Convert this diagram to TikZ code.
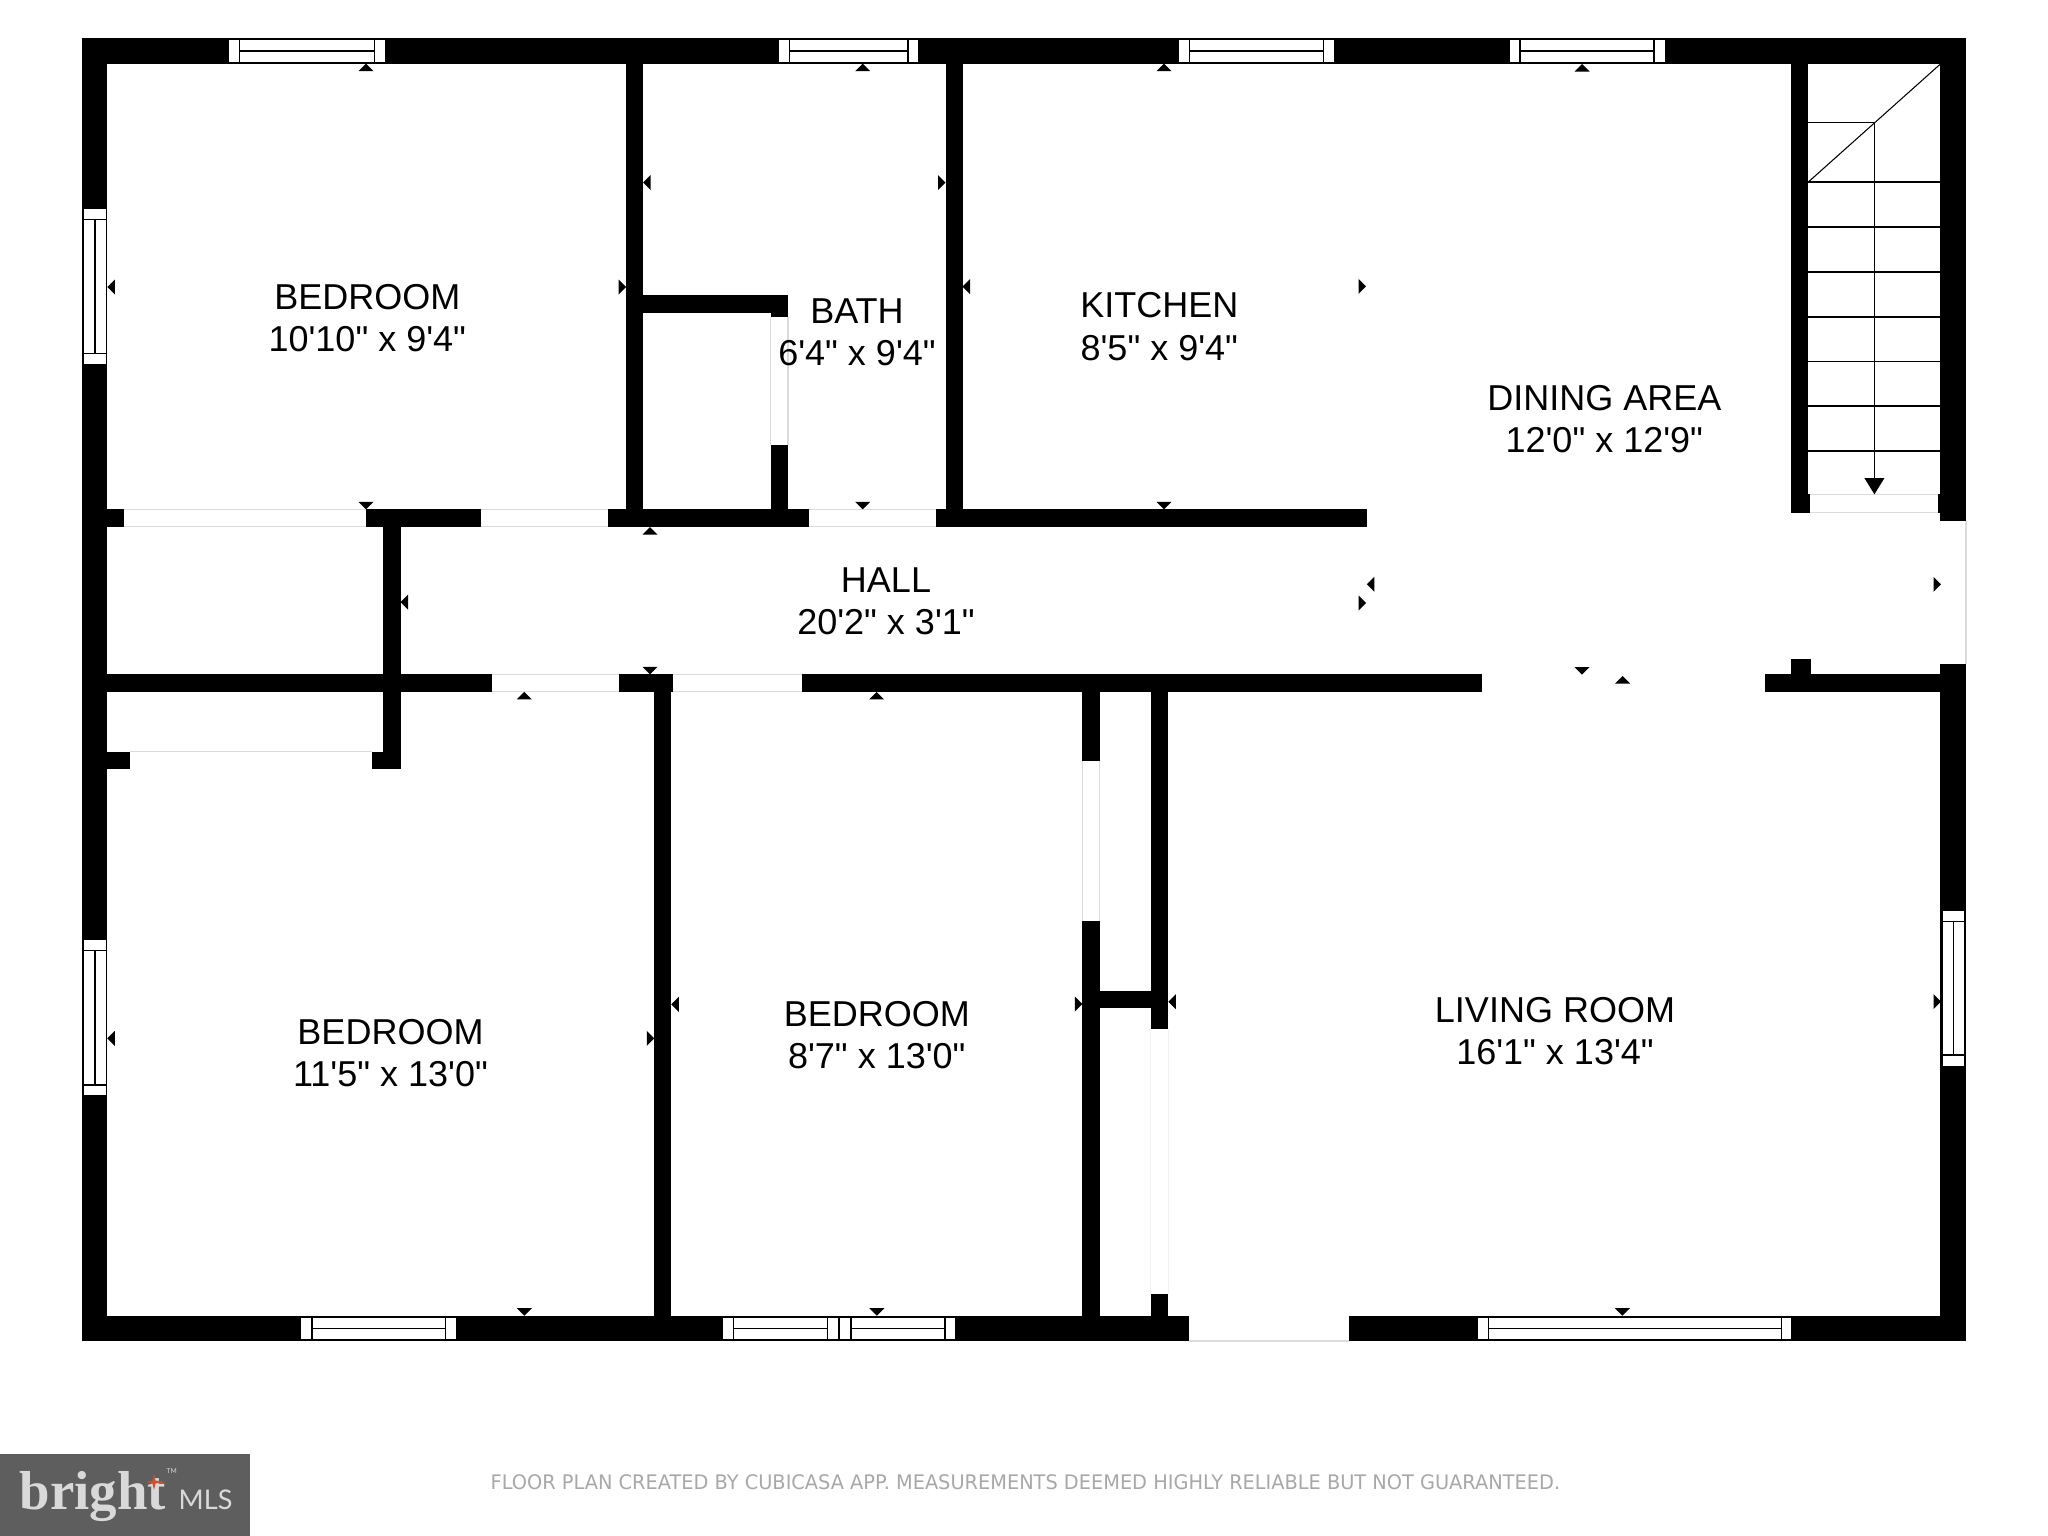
\documentclass[tikz,border=0pt]{standalone}
\usepackage{fontspec}
\newfontfamily\roomfont{Liberation Sans}
\newfontfamily\notefont[FakeStretch=0.965]{DejaVu Sans}
\newfontfamily\logofont{Liberation Serif}
\newfontfamily\mlsfont{Lato}
\definecolor{DoorLine}{rgb}{0.86,0.86,0.86}
\definecolor{DoorFaint}{rgb}{0.95,0.95,0.95}
\definecolor{NoteGrey}{rgb}{0.66,0.66,0.66}
\definecolor{LogoGrey}{rgb}{0.37,0.37,0.37}
\definecolor{LogoText}{rgb}{0.85,0.85,0.85}
\definecolor{LogoStar}{rgb}{0.80,0.31,0.18}
\usetikzlibrary{arrows.meta}

\begin{document}
\begin{tikzpicture}[x=0.01cm,y=-0.01cm,
    wall/.style={fill=black},
    doorline/.style={draw=DoorLine,line width=0.3pt},
    win/.style={draw=black,fill=white,line width=0.4pt},
    tread/.style={draw=black,line width=0.3pt},
    room/.style={font=\roomfont\fontsize{10.24}{11.95}\selectfont,align=center,inner sep=0pt}]

    \useasboundingbox (0,0) rectangle (2048,1536);
    \fill[white] (0,0) rectangle (2048,1536);

    % outer walls
    \fill[wall] (82,38.3) rectangle (1966,64);
    \fill[wall] (82,38.3) rectangle (107.3,1341);
    \fill[wall] (82,1315.7) rectangle (1189,1341);
    \fill[wall] (1348.9,1315.7) rectangle (1966,1341);
    \fill[wall] (1940.4,38.3) rectangle (1966,520.5);
    \fill[wall] (1940.4,663.7) rectangle (1966,1341);

    % hall, upper side
    \fill[wall] (107.3,509.3) rectangle (124.3,526.8);
    \fill[wall] (365.8,509.3) rectangle (480.5,526.8);
    \fill[wall] (607.8,509.3) rectangle (808.9,526.8);
    \fill[wall] (935.5,509.3) rectangle (1367,526.8);

    % hall, lower side
    \fill[wall] (107.3,674.3) rectangle (491.7,691.9);
    \fill[wall] (619.4,674.3) rectangle (673.4,691.9);
    \fill[wall] (802,674.3) rectangle (1481.5,691.9);
    \fill[wall] (1765.4,674.3) rectangle (1940.4,691.9);
    \fill[wall] (1791,658.7) rectangle (1810.5,674.3);

    % bath and kitchen walls
    \fill[wall] (626,64) rectangle (643,509.3);
    \fill[wall] (643,295.3) rectangle (788,312.7);
    \fill[wall] (770.6,295.3) rectangle (788,317.3);
    \fill[wall] (770.6,445.3) rectangle (788,509.3);
    \fill[wall] (945.5,64) rectangle (962.5,509.3);

    % closet at the left
    \fill[wall] (383.2,526.8) rectangle (400.5,769.4);
    \fill[wall] (372,751.5) rectangle (400.5,769.4);
    \fill[wall] (107.3,751.5) rectangle (129.6,769.4);

    % bedroom wall and closet at the bottom
    \fill[wall] (654.3,691.9) rectangle (671.3,1315.7);
    \fill[wall] (1082.3,691.9) rectangle (1099.7,761.3);
    \fill[wall] (1082.3,920.7) rectangle (1099.7,1315.7);
    \fill[wall] (1150.7,691.9) rectangle (1168.3,1029.3);
    \fill[wall] (1150.7,1293.9) rectangle (1168.3,1315.7);
    \fill[wall] (1099.7,991) rectangle (1150.7,1008.3);

    % stair walls
    \fill[wall] (1791.3,64) rectangle (1808.3,512.7);
    \fill[wall] (1808.3,494.3) rectangle (1809.6,512.7);
    \fill[wall] (1938,494.3) rectangle (1940.4,512.7);

    % door lines
    \draw[doorline] (124.3,509.3) -- (365.8,509.3) (124.3,526.8) -- (365.8,526.8);
    \draw[doorline] (480.5,509.3) -- (607.8,509.3) (480.5,526.8) -- (607.8,526.8);
    \draw[doorline] (808.9,509.3) -- (935.5,509.3) (808.9,526.8) -- (935.5,526.8);
    \draw[doorline] (491.7,674.3) -- (619.4,674.3) (491.7,691.9) -- (619.4,691.9);
    \draw[doorline] (673.4,674.3) -- (802,674.3) (673.4,691.9) -- (802,691.9);
    \draw[doorline] (129.6,751.5) -- (372,751.5);
    \draw[doorline] (770.6,317.3) -- (770.6,445.3) (788,317.3) -- (788,445.3);
    \draw[doorline] (1082.3,761.3) -- (1082.3,920.7) (1099.7,761.3) -- (1099.7,920.7);
    \draw[doorline,draw=DoorFaint] (1150.7,1029.3) -- (1150.7,1293.9) (1168.3,1029.3) -- (1168.3,1293.9);
    \draw[doorline] (1809.6,494.3) -- (1938,494.3) (1809.6,512.7) -- (1938,512.7);
    \draw[doorline] (1189,1341) -- (1348.9,1341);
    \draw[doorline] (1966,520.5) -- (1966,663.7);

    % windows, top
    \filldraw[win] (228.3,39.5) rectangle (385.4,62.5) (239.5,39.5) -- (239.5,62.5) (374.3,39.5) -- (374.3,62.5) (239.5,51) -- (374.3,51);
    \filldraw[win] (778.5,39.5) rectangle (918.8,62.5) (789.5,39.5) -- (789.5,62.5) (907.8,39.5) -- (907.8,62.5) (789.5,51) -- (907.8,51);
    \filldraw[win] (1178.2,39.5) rectangle (1334.4,62.5) (1189.7,39.5) -- (1189.7,62.5) (1323.4,39.5) -- (1323.4,62.5) (1189.7,51) -- (1323.4,51);
    \filldraw[win] (1509.2,39.5) rectangle (1665.4,62.5) (1520,39.5) -- (1520,62.5) (1654,39.5) -- (1654,62.5) (1520,51) -- (1654,51);

    % windows, left and right
    \filldraw[win] (83.2,208.7) rectangle (106.4,364.4) (83.2,219.4) -- (106.4,219.4) (83.2,353.7) -- (106.4,353.7) (94.8,219.4) -- (94.8,353.7);
    \filldraw[win] (83.2,939) rectangle (106.4,1096) (83.2,950.7) -- (106.4,950.7) (83.2,1084.8) -- (106.4,1084.8) (94.8,950.7) -- (94.8,1084.8);
    \filldraw[win] (1942,910) rectangle (1965,1066.3) (1942,921.5) -- (1965,921.5) (1942,1055) -- (1965,1055) (1953.5,921.5) -- (1953.5,1055);

    % windows, bottom
    \filldraw[win] (300.2,1317) rectangle (456.9,1340) (311.8,1317) -- (311.8,1340) (445.7,1317) -- (445.7,1340) (311.8,1328.7) -- (445.7,1328.7);
    \filldraw[win] (722.5,1317) rectangle (838.2,1340) (733.2,1317) -- (733.2,1340) (827.5,1317) -- (827.5,1340) (733.2,1328.7) -- (827.5,1328.7);
    \filldraw[win] (839.3,1317) rectangle (956,1340) (851,1317) -- (851,1340) (945,1317) -- (945,1340) (851,1328.7) -- (945,1328.7);
    \filldraw[win] (1477.7,1317) rectangle (1792,1340) (1488.5,1317) -- (1488.5,1340) (1781.2,1317) -- (1781.2,1340) (1488.5,1328.7) -- (1781.2,1328.7);

    % stairs
    \coordinate (StairTop) at (1874.4,122.8);
    \coordinate (StairEnd) at (1874.4,494.3);
    \draw[tread] (1808.3,122.8) -- (StairTop);
    \draw[tread] (1808.3,182) -- (1940.4,182);
    \draw[tread] (1808.3,227) -- (1940.4,227);
    \draw[tread] (1808.3,272) -- (1940.4,272);
    \draw[tread] (1808.3,317) -- (1940.4,317);
    \draw[tread] (1808.3,361.6) -- (1940.4,361.6);
    \draw[tread] (1808.3,406) -- (1940.4,406);
    \draw[tread] (1808.3,451) -- (1940.4,451);
    \draw[tread] (1808.3,182) -- (1940.4,64);
    \draw[tread,-{Triangle[length=4.6pt,width=5.6pt]}] (StairTop) -- (StairEnd);

    % ticks on the walls, pointing up
    \fill (366,63.7) -- ++(-7.5,7.5) -- ++(15,0) -- cycle
          (862.7,63.7) -- ++(-7.5,7.5) -- ++(15,0) -- cycle
          (1164,63.7) -- ++(-7.5,7.5) -- ++(15,0) -- cycle
          (1582,64) -- ++(-7.5,7.5) -- ++(15,0) -- cycle
          (650,527) -- ++(-7.5,7.5) -- ++(15,0) -- cycle
          (524.3,691.9) -- ++(-7.5,7.5) -- ++(15,0) -- cycle
          (876.6,691.9) -- ++(-7.5,7.5) -- ++(15,0) -- cycle
          (1622.6,676) -- ++(-7.5,7.5) -- ++(15,0) -- cycle;

    % pointing down
    \fill (366,509.3) -- ++(-7.5,-7.5) -- ++(15,0) -- cycle
          (862.7,509.3) -- ++(-7.5,-7.5) -- ++(15,0) -- cycle
          (1164,509.3) -- ++(-7.5,-7.5) -- ++(15,0) -- cycle
          (650,674.3) -- ++(-7.5,-7.5) -- ++(15,0) -- cycle
          (1582,674.7) -- ++(-7.5,-7.5) -- ++(15,0) -- cycle
          (524.3,1315.7) -- ++(-7.5,-7.5) -- ++(15,0) -- cycle
          (876.8,1315.7) -- ++(-7.5,-7.5) -- ++(15,0) -- cycle
          (1622.4,1315.7) -- ++(-7.5,-7.5) -- ++(15,0) -- cycle;

    % pointing left
    \fill (107.3,287) -- ++(7.5,-7.5) -- ++(0,15) -- cycle
          (643,182.5) -- ++(7.5,-7.5) -- ++(0,15) -- cycle
          (962.5,286.7) -- ++(7.5,-7.5) -- ++(0,15) -- cycle
          (107.3,1038.4) -- ++(7.5,-7.5) -- ++(0,15) -- cycle
          (671.3,1004.4) -- ++(7.5,-7.5) -- ++(0,15) -- cycle
          (1168.3,1001.7) -- ++(7.5,-7.5) -- ++(0,15) -- cycle
          (1366.8,584.3) -- ++(7.5,-7.5) -- ++(0,15) -- cycle
          (400.5,602) -- ++(7.5,-7.5) -- ++(0,15) -- cycle;

    % pointing right
    \fill (626,287) -- ++(-7.5,-7.5) -- ++(0,15) -- cycle
          (945.5,182.7) -- ++(-7.5,-7.5) -- ++(0,15) -- cycle
          (1366,286.3) -- ++(-7.5,-7.5) -- ++(0,15) -- cycle
          (654.3,1038.4) -- ++(-7.5,-7.5) -- ++(0,15) -- cycle
          (1082.3,1004) -- ++(-7.5,-7.5) -- ++(0,15) -- cycle
          (1941,1001.7) -- ++(-7.5,-7.5) -- ++(0,15) -- cycle
          (1366,603) -- ++(-7.5,-7.5) -- ++(0,15) -- cycle
          (1941,584.3) -- ++(-7.5,-7.5) -- ++(0,15) -- cycle;

    % room labels
    \node[room] (BedroomTop) at (367.3,317.9) {BEDROOM\\10'10" x 9'4"};
    \node[room] (Bath) at (857,332.6) {BATH\\6'4" x 9'4"};
    \node[room] (Kitchen) at (1159.3,326.6) {KITCHEN\\8'5" x 9'4"};
    \node[room] (Dining) at (1604.3,418.7) {DINING AREA\\12'0" x 12'9"};
    \node[room] (Hall) at (886,601.5) {HALL\\20'2" x 3'1"};
    \node[room] (BedroomLeft) at (390.5,1053.3) {BEDROOM\\11'5" x 13'0"};
    \node[room] (BedroomMid) at (876.8,1035) {BEDROOM\\8'7" x 13'0"};
    \node[room] (Living) at (1555,1031) {LIVING ROOM\\16'1" x 13'4"};

    % note under the plan
    \node[anchor=base west,inner sep=0pt,text=NoteGrey,font=\notefont\fontsize{5.7}{7}\selectfont] (Note) at (490,1489) {FLOOR PLAN CREATED BY CUBICASA APP. MEASUREMENTS DEEMED HIGHLY RELIABLE BUT NOT GUARANTEED.};

    % logo
    \fill[LogoGrey] (0,1454) rectangle (250,1536);
    \node[anchor=base west,inner sep=0pt,text=LogoText,font=\logofont\bfseries\fontsize{15.6}{18}\selectfont] (Bright) at (19,1509) {bright};
    \node[anchor=base west,inner sep=0pt,text=LogoText,font=\mlsfont\fontsize{7.7}{9}\selectfont] (Mls) at (178,1509) {MLS};
    \node[anchor=base west,inner sep=0pt,text=LogoText,font=\mlsfont\fontsize{1.9}{2}\selectfont] (Tm) at (166,1473.5) {TM};
    \fill[LogoStar] (146,1482) -- (152.5,1480.5) -- (154,1474) -- (155.5,1480.5) -- (167,1482) -- (155.5,1483.5) -- (154,1490) -- (152.5,1483.5) -- cycle;

\end{tikzpicture}
\end{document}
